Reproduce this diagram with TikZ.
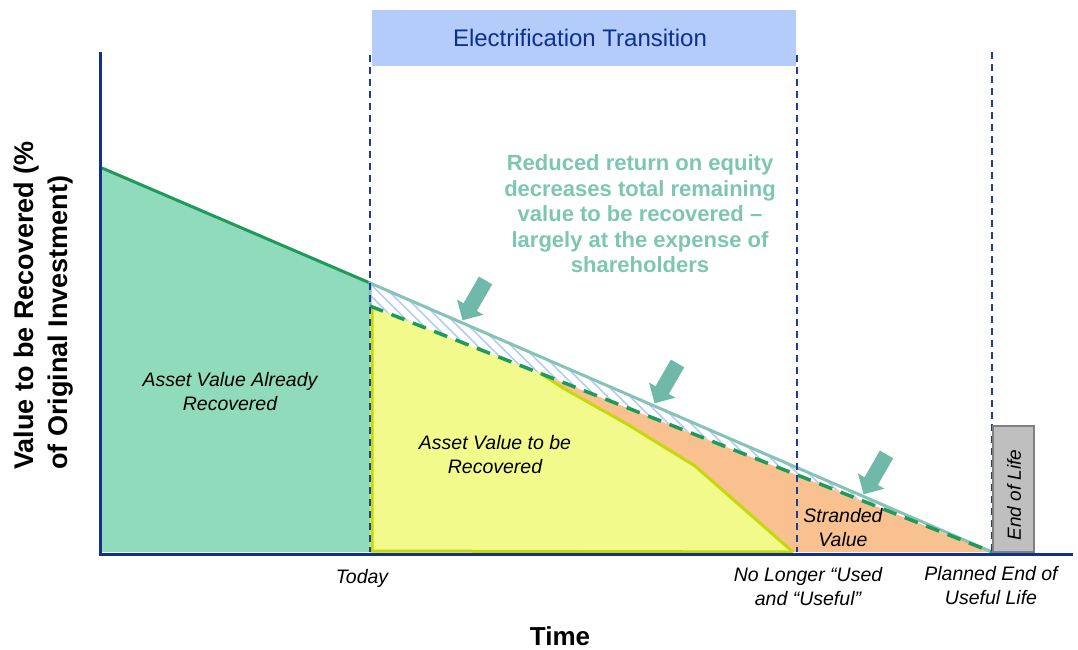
\documentclass[tikz,border=0pt]{standalone}
\usepackage{fontspec}
\setmainfont{Liberation Sans}
\usetikzlibrary{patterns.meta,shapes.arrows}
\definecolor{axisblue}{RGB}{18,49,138}
\definecolor{dashblue}{RGB}{30,62,155}
\definecolor{bandblue}{RGB}{180,204,250}
\definecolor{titleblue}{RGB}{13,48,145}
\definecolor{recgreen}{RGB}{143,219,187}
\definecolor{linegreen}{RGB}{30,154,90}
\definecolor{yellowfill}{RGB}{242,250,140}
\definecolor{yellowedge}{RGB}{197,216,10}
\definecolor{orangefill}{RGB}{249,192,144}
\definecolor{tealline}{RGB}{134,195,182}
\definecolor{tealarrow}{RGB}{112,184,168}
\definecolor{tealtext}{RGB}{124,198,178}
\definecolor{hatchblue}{RGB}{180,204,245}
\definecolor{eolgray}{RGB}{191,191,191}
\definecolor{eoldark}{RGB}{128,128,128}

\begin{document}
\begin{tikzpicture}[x=1pt,y=-1pt,
  phase/.style={dashblue,line width=1.8pt,dash pattern=on 7pt off 5pt},
  lbl/.style={font=\fontsize{19.5}{24}\selectfont\itshape,align=center},
  push/.style={single arrow,fill=tealarrow,inner xsep=0pt,inner ysep=7.5pt,
    minimum height=46pt,single arrow head extend=7.5pt,single arrow head indent=0pt,rotate=-120}]
  \useasboundingbox (0,0) rectangle (1078,649);

  % key points
  \coordinate (start) at (102,168);
  \coordinate (todayHi) at (370,283);
  \coordinate (todayLo) at (370,306);
  \coordinate (split) at (540,373);
  \coordinate (unused) at (793,552);
  \coordinate (endlife) at (992,552);

  % areas
  \fill[recgreen] (start) -- (todayHi) -- (370,552) -- (102,552) -- cycle;
  \fill[orangefill] (todayLo) -- (endlife) -- (370,552) -- cycle;
  \fill[yellowfill] (todayLo) -- (split) -- (563,388) -- (627,424) -- (695,466) -- (unused) -- (370,552) -- cycle;
  \fill[white] (todayHi) -- (endlife) -- (todayLo) -- cycle;
  \path[pattern={Lines[angle=-45,distance=8pt,line width=1.6pt]},pattern color=hatchblue]
    (todayHi) -- (endlife) -- (todayLo) -- cycle;

  % boundaries
  \draw[yellowedge,line width=3pt,line join=round] (split) -- (563,388) -- (627,424) -- (695,466) -- (unused);
  \draw[yellowedge,line width=3pt] (372,308) -- (372,551) -- (unused);
  \draw[linegreen,line width=3pt] (start) -- (todayHi);
  \draw[tealline,line width=3pt] (todayLo) -- (todayHi) -- (endlife);
  \draw[linegreen,line width=3.5pt,dash pattern=on 14pt off 9pt] (todayLo) -- (endlife);

  % phase markers
  \draw[phase] (370,55) -- (370,552);
  \draw[phase] (797,55) -- (797,552);
  \draw[phase] (992,52) -- (endlife);
  \node[fill=bandblue,minimum width=424,minimum height=56,inner sep=0,
    text=titleblue,font=\fontsize{24}{28}\selectfont] (band) at (584,38) {};
  \node[text=titleblue,font=\fontsize{24}{28}\selectfont] (bandtext) at (580,38) {Electrification Transition};

  % end of life
  \node[draw=eoldark,fill=eolgray,line width=2.5pt,minimum width=41,
    minimum height=126,inner sep=0] (eol) at (1013.5,489) {};
  \node[rotate=90,font=\fontsize{19}{22}\selectfont\itshape] (eoltext) at (1014,495) {End of Life};

  % push-down arrows
  \node[push] (pushA) at (476,297) {};
  \node[push] (pushB) at (668,380) {};
  \node[push] (pushC) at (877,471) {};

  \node[text=tealtext,align=center,font=\fontsize{22}{25.5}\selectfont\bfseries] (note) at (640,214)
    {Reduced return on equity\\decreases total remaining\\value to be recovered --\\largely at the expense of\\shareholders};

  % area labels
  \node[lbl] (recovered) at (230,392) {Asset Value Already\\Recovered};
  \node[lbl] (torecover) at (495,455) {Asset Value to be\\Recovered};
  \node[lbl] (stranded) at (843,528) {Stranded\\Value};

  % axes
  \draw[axisblue,line width=3pt] (100,52) -- (100,555);
  \draw[axisblue,line width=3pt] (99,554) -- (1073,554);

  % axis labels
  \node[lbl] (today) at (362,578) {Today};
  \node[lbl] (nolonger) at (808,587) {No Longer “Used\\and “Useful”};
  \node[lbl] (planned) at (991,586) {Planned End of\\Useful Life};
  \node[font=\fontsize{26}{30}\selectfont\bfseries] (time) at (560,636) {Time};
  \node[rotate=90,anchor=west,inner sep=0,align=left,font=\fontsize{27}{34}\selectfont\bfseries] (ylabel) at (44,470)
    {Value to be Recovered (\%\\of Original Investment)};
\end{tikzpicture}
\end{document}
